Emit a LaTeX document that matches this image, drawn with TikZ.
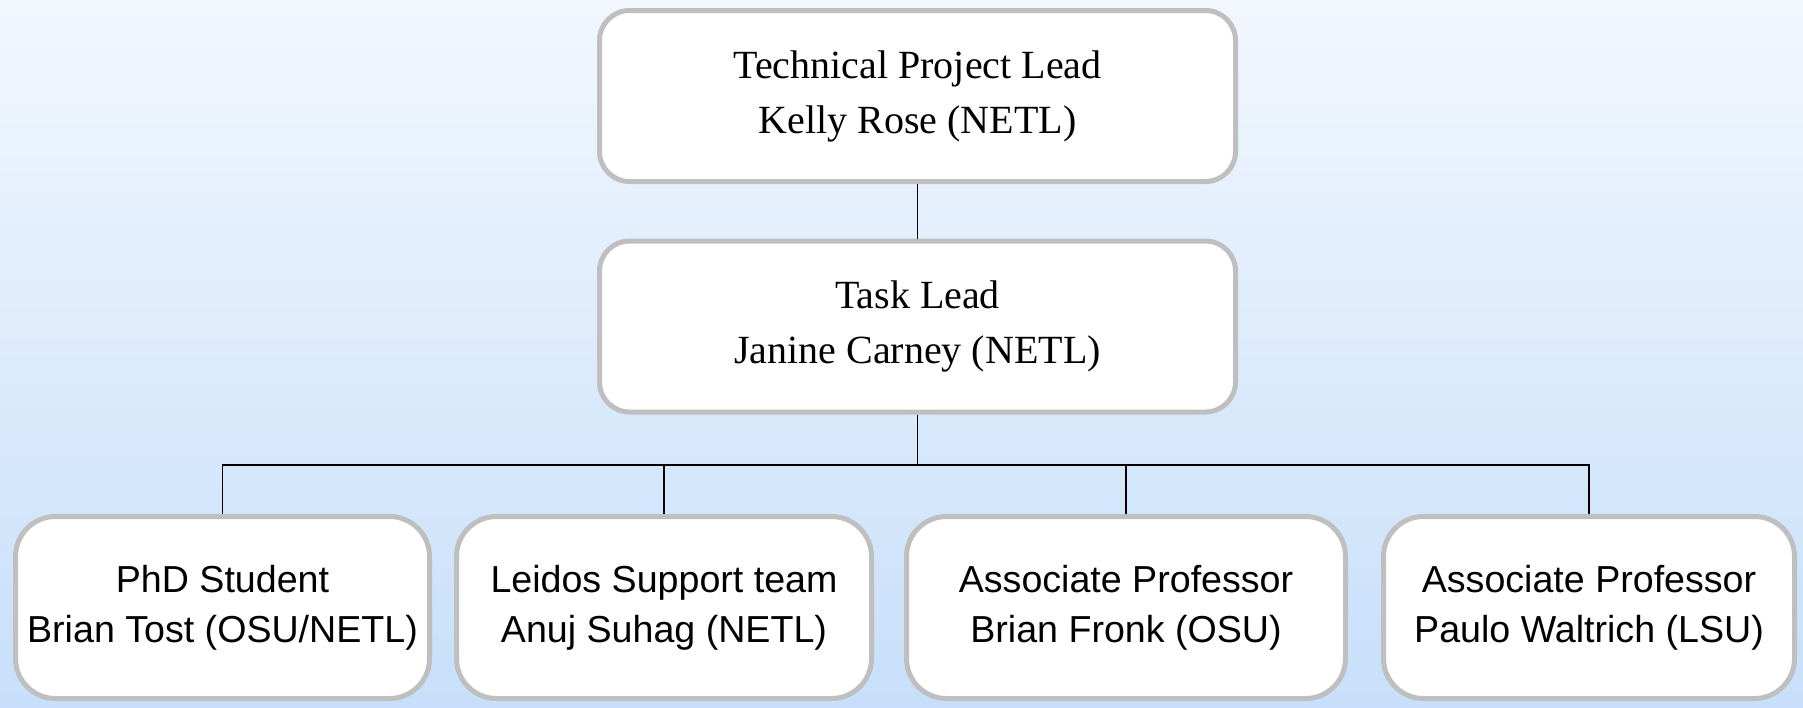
\documentclass[tikz,border=0pt]{standalone}
\usepackage{fontspec}
\setmainfont{Liberation Serif}
\newfontfamily\arialfont{Liberation Sans}
\usetikzlibrary{positioning}

\definecolor{bgtop}{RGB}{242,247,254}
\definecolor{bgbottom}{RGB}{199,223,250}
\definecolor{boxgray}{RGB}{191,191,191}

\tikzset{
  leadbox/.style={draw=boxgray, line width=2.5pt, fill=white, rounded corners=15pt,
                  minimum width=318pt, minimum height=85.5pt, align=center,
                  font=\fontsize{20}{27.5}\selectfont},
  memberbox/.style={draw=boxgray, line width=2.5pt, fill=white, rounded corners=20pt,
                    minimum height=91pt, align=center, inner sep=0pt,
                    font=\arialfont\fontsize{18.8}{25}\selectfont},
  link/.style={draw=black, line width=0.75pt}
}

\begin{document}
\begin{tikzpicture}[x=0.5pt, y=-0.5pt]
        % background
        \shade [top color=bgtop, bottom color=bgbottom] (0, 0) rectangle (1803, 707);
        \useasboundingbox (0, 0) rectangle (1803, 707);

        % leads
        \node [leadbox] (lead) at (917.5, 96)
               {Technical Project Lead\\Kelly Rose (NETL)};
        \node [leadbox] (task) at (917.5, 326.5)
               {Task Lead\\Janine Carney (NETL)};

        % team
        \node [memberbox, minimum width=207pt] (phd) at (222.5, 607.5)
               {PhD Student\\Brian Tost (OSU/NETL)};
        \node [memberbox, minimum width=207.5pt] (leidos) at (664, 607.5)
               {Leidos Support team\\Anuj Suhag (NETL)};
        \node [memberbox, minimum width=219.5pt] (fronk) at (1126, 607.5)
               {Associate Professor\\Brian Fronk (OSU)};
        \node [memberbox, minimum width=205.5pt] (waltrich) at (1589, 607.5)
               {Associate Professor\\Paulo Waltrich (LSU)};

        % connectors
        \coordinate (bar) at (917.5, 465);
        \draw [link] (lead) -- (task);
        \draw [link] (task) -- (bar);
        \foreach \member in {phd, leidos, fronk, waltrich}
               \draw [link] (bar) -| (\member);
\end{tikzpicture}
\end{document}
